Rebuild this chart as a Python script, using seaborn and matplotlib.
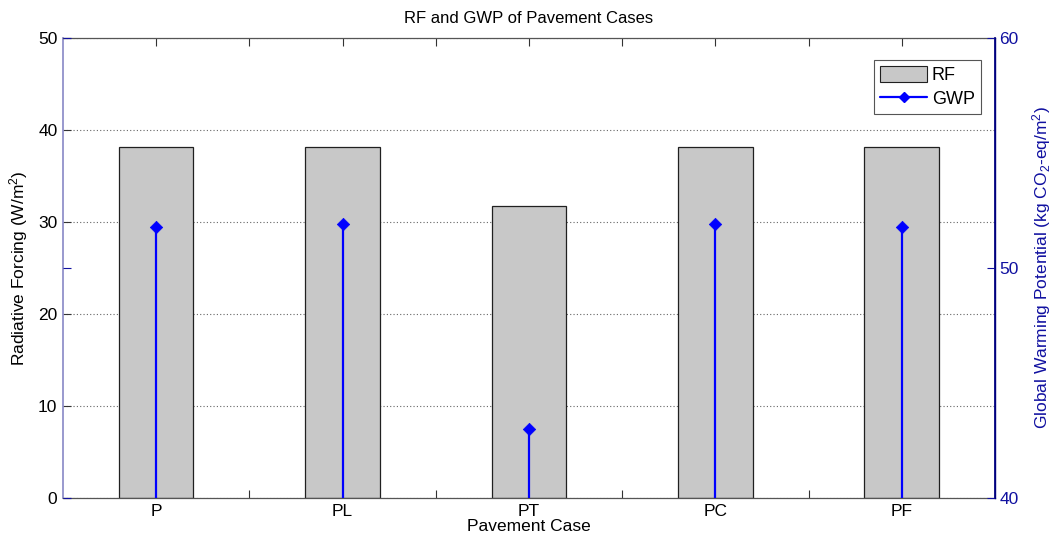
import numpy as np
import matplotlib
matplotlib.use("Agg")
import matplotlib.pyplot as plt
import seaborn as sns
from matplotlib.patches import Patch
from matplotlib.lines import Line2D

cases = ["P", "PL", "PT", "PC", "PF"]
rf_values = [38.1, 38.2, 31.7, 38.2, 38.1]
gwp_values = [51.8, 51.9, 43.0, 51.9, 51.8]
left_ticks = [0, 10, 20, 30, 40, 50]
right_ticks = [40, 50, 60]

sns.set_theme(style="white")
plt.rcParams["font.family"] = ["Liberation Sans", "DejaVu Sans"]
plt.rcParams["mathtext.default"] = "regular"
plt.rcParams["text.color"] = "black"
plt.rcParams["axes.labelcolor"] = "black"
plt.rcParams["xtick.color"] = "black"
plt.rcParams["ytick.color"] = "black"

fig = plt.figure(figsize=(10.55, 5.44), dpi=100)
ax = fig.add_axes([0.0597, 0.0846, 0.8834, 0.8456])

xpos = np.arange(len(cases))
sns.barplot(x=xpos, y=rf_values, ax=ax, color="#c8c8c8", width=0.4,
            edgecolor="#202020", linewidth=0.9, saturation=1)
ax.set_xlim(-0.5, len(cases) - 0.5)
ax.set_ylim(0, 50)
ax.set_yticks(left_ticks)
ax.set_yticklabels([str(t) for t in left_ticks], fontsize=12.5)
half = np.arange(0, len(cases) - 0.99, 0.5)
ax.set_xticks(half)
labels = []
for h in half:
    labels.append(cases[int(h)] if float(h).is_integer() else "")
ax.set_xticklabels(labels, fontsize=12.5)
ax.yaxis.grid(True, linestyle=(0, (1, 2)), color="#666666", linewidth=0.8)
ax.xaxis.grid(False)
ax.set_axisbelow(True)
ax.tick_params(axis="both", direction="in", length=6, width=0.8, color="#333333",
               labelcolor="black",
               top=True, bottom=True, left=True, right=True, pad=4)
ax.set_xlabel("Pavement Case", fontsize=12.5, labelpad=0, color="black")
ax.set_ylabel("Radiative Forcing (W/m$^2$)", fontsize=12.5, labelpad=6, color="black")
ax.set_title("RF and GWP of Pavement Cases", fontsize=12, pad=11, color="black")
for s in ["top", "bottom"]:
    ax.spines[s].set_color("#555555")
    ax.spines[s].set_linewidth(0.9)
ax.spines["left"].set_color("#8c8cc8")
ax.spines["right"].set_color("#00007f")

ax2 = ax.twinx()
ax2.set_ylim(40, 60)
ax2.vlines(xpos, 40, gwp_values, color="#0000ff", linewidth=1.6, zorder=3)
sns.scatterplot(x=xpos, y=gwp_values, ax=ax2, marker="D", s=40, color="#0000ff",
                edgecolor="#0000ff", zorder=4, legend=False)
ax2.set_yticks(right_ticks)
ax2.set_yticklabels([str(t) for t in right_ticks], fontsize=12.5, color="#1010a0")
ax2.tick_params(axis="y", direction="in", length=6, width=0.8, color="#1010a0",
                left=True, right=True, pad=3)
ax2.set_ylabel("Global Warming Potential (kg CO$_2$-eq/m$^2$)", fontsize=12.5,
               color="#1010a0", labelpad=8)
ax2.grid(False)
for s in ["top", "bottom", "left"]:
    ax2.spines[s].set_visible(False)
ax2.spines["right"].set_color("#00007f")
ax2.spines["right"].set_linewidth(1.0)

handles = [Patch(facecolor="#c8c8c8", edgecolor="#202020", linewidth=0.8, label="RF"),
           Line2D([0], [0], color="#0000ff", linewidth=1.6, marker="D",
                  markersize=5, markevery=[1], label="GWP")]
leg = ax2.legend(handles=handles, loc="upper right", bbox_to_anchor=(0.985, 0.953),
                 fontsize=13, frameon=True, fancybox=False, framealpha=1,
                 edgecolor="#555555", handlelength=2.6, handleheight=1.0,
                 handletextpad=0.25, borderpad=0.35, labelspacing=0.3, borderaxespad=0)
leg.get_frame().set_linewidth(0.8)
for t in leg.get_texts():
    t.set_color("black")

fig.savefig("out.png", dpi=100)
